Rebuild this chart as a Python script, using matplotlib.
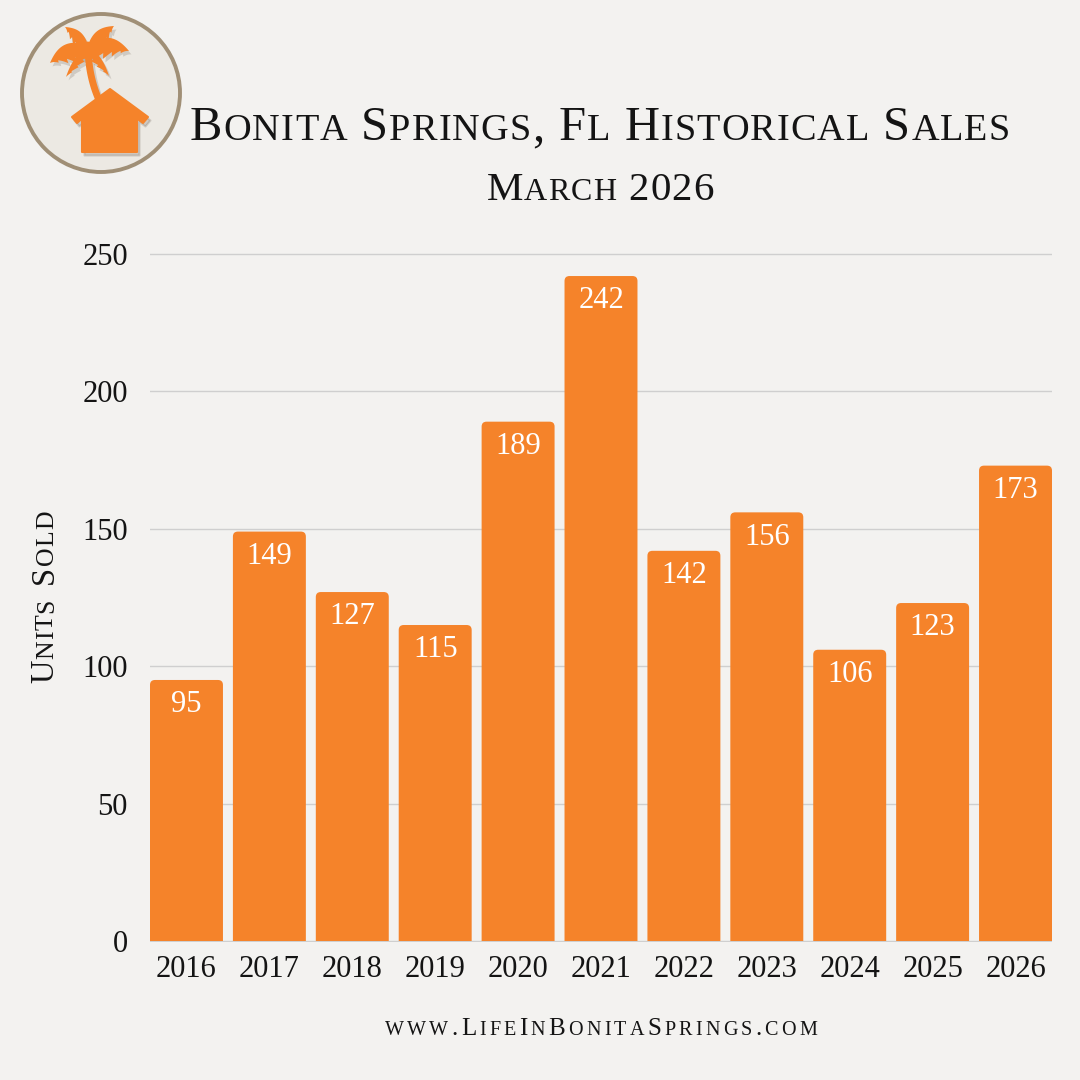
import matplotlib
matplotlib.use("Agg")
import matplotlib.pyplot as plt
import numpy as np
from matplotlib.patches import Circle, Polygon, FancyBboxPatch, Rectangle
from matplotlib.transforms import IdentityTransform

# données (mars, unités vendues)
years = ['2016', '2017', '2018', '2019', '2020', '2021',
         '2022', '2023', '2024', '2025', '2026']
units_sold = [95, 149, 127, 115, 189, 242, 142, 156, 106, 123, 173]
y_ticks = [0, 50, 100, 150, 200, 250]

title = "Bonita Springs, Fl Historical Sales"
subtitle = "March 2026"
y_label = "Units Sold"
footer = "www.LifeInBonitaSprings.com"

BG = '#F3F2F0'
ORANGE = '#F5832A'
INK = '#141414'
SERIF = 'Liberation Serif'

fig = plt.figure(figsize=(10.8, 10.8), dpi=100, facecolor=BG)

# axe principal (en pixels : x 150 -> 1052, y=0 à 941, y=250 à 254)
ax = fig.add_axes([150 / 1080, (1080 - 942.4) / 1080, 902 / 1080, 691.1 / 1080])
ax.set_facecolor(BG)
x = np.arange(len(years))
bars = ax.bar(x, units_sold, width=0.88, color=ORANGE, zorder=2)
for b, v in zip(bars, units_sold):
    # barre à coins du haut arrondis, bas coupé net à 0
    b.set_visible(False)
    rb = FancyBboxPatch((b.get_x(), -10), b.get_width(), v + 10,
                        boxstyle='round,pad=0,rounding_size=0.06',
                        mutation_aspect=30, fc=ORANGE, ec='none', zorder=2)
    ax.add_patch(rb)
    rb.set_clip_path(Rectangle((b.get_x() - 0.1, 0), b.get_width() + 0.2, 400,
                               transform=ax.transData))
    ax.text(b.get_x() + b.get_width() / 2, v - 9, str(v), ha='center', va='center',
            color='white', fontsize=22, family=SERIF, zorder=3)

ax.set_xlim(-0.44, len(years) - 0.56)
ax.set_ylim(-0.5, 251)
ax.set_yticks(y_ticks)
ax.set_xticks(x)
ax.set_xticklabels(years)
ax.grid(axis='y', color='#CFCFCF', linewidth=1)
ax.set_axisbelow(True)
for s in ax.spines.values():
    s.set_visible(False)
ax.tick_params(axis='y', length=0, pad=16, labelsize=22, labelcolor=INK)
ax.tick_params(axis='x', length=0, pad=9, labelsize=22, labelcolor=INK)
for lab in ax.get_xticklabels() + ax.get_yticklabels():
    lab.set_family(SERIF)

renderer = fig.canvas.get_renderer()


def ink_width(s, size):
    t = fig.text(0, 0, s, fontsize=size, family=SERIF)
    w = t.get_window_extent(renderer).width
    t.remove()
    return w


def small_caps(text, cx, base, big, small, width, rotation=0, space_k=1.0):
    """Petites capitales faites à la main, lettre par lettre, en pixels"""
    glyphs = []
    for ch in text:
        if ch == ' ':
            glyphs.append((None, space_k * (ink_width('I I', big) - ink_width('II', big)), big))
        else:
            size = small if ch.islower() else big
            glyphs.append((ch.upper(), ink_width(ch.upper(), size), size))
    total = sum(g[1] for g in glyphs)
    track = max((width - total) / (len(glyphs) - 1), 1.0)
    width = total + track * (len(glyphs) - 1)
    pos = cx - width / 2
    for ch, w, size in glyphs:
        if ch is not None:
            if rotation == 0:
                xy = (pos, base)
            else:
                xy = (base, pos)
            fig.text(xy[0], xy[1], ch, fontsize=size, family=SERIF, color=INK,
                     ha='left', va='baseline', rotation=rotation,
                     rotation_mode='anchor', transform=IdentityTransform())
        pos += w + track


small_caps(title, 600, 1080 - 140, 35, 27.5, 820)
small_caps(subtitle, 600, 1080 - 200, 29.5, 23, 227)
small_caps(y_label, 1080 - 597, 53, 23.5, 18.5, 169, rotation=90, space_k=1.5)
small_caps(footer, 601, 1080 - 1035, 18, 14.5, 432)

# logo : cercle, palmier et maison
lx = fig.add_axes([0, 880 / 1080, 200 / 1080, 200 / 1080])
lx.set_xlim(0, 200)
lx.set_ylim(200, 0)
lx.axis('off')
lx.add_patch(Circle((101, 93), 79, fc='#ECE9E3', ec='#A08F76', lw=2.8))


def leaf(p0, p1, bend, width, teeth=5, n=80):
    """Palme : nervure arquée vers le haut, folioles pendantes dentelées"""
    p0, p1 = np.array(p0, float), np.array(p1, float)
    d = p1 - p0
    nrm = np.array([-d[1], d[0]]) / np.hypot(*d)
    if nrm[1] > 0:
        nrm = -nrm  # vers le haut (y image vers le bas)
    t = np.linspace(0, 1, n)
    ctrl = (p0 + p1) / 2 + nrm * bend
    mid = ((1 - t) ** 2)[:, None] * p0 + (2 * (1 - t) * t)[:, None] * ctrl + (t ** 2)[:, None] * p1
    saw = 1 - 0.35 * ((t * teeth) % 1)
    th = np.sin(np.pi * t ** 0.7) * saw
    upper = mid + nrm * (0.2 * width * np.sin(np.pi * t))[:, None]
    lower = mid - nrm * (width * th)[:, None]
    return np.vstack([upper, lower[::-1]])


crown = (88, 45)
fronds = [((50, 63), 13, 18), ((65, 27), 6, 12), ((114, 26), 6, 14),
          ((129, 51), 13, 18), ((66, 77), 3, 8), ((109, 76), 3, 8)]
house = [(110, 89), (148, 117), (143, 123), (137, 118.5), (137, 152),
         (82, 152), (82, 118.5), (77, 123), (72, 117)]

for dx, dy, col, z in [(2.5, 3.5, (0.3, 0.25, 0.2, 0.18), 1), (0, 0, ORANGE, 2)]:
    t = np.linspace(0, 1, 30)
    tx = (1 - t) ** 2 * 88 + 2 * (1 - t) * t * 88 + t ** 2 * 99 + dx
    ty = (1 - t) ** 2 * 45 + 2 * (1 - t) * t * 75 + t ** 2 * 100 + dy
    lx.plot(tx, ty, color=col, lw=5, solid_capstyle='round', zorder=z)
    for tip, bend, w in fronds:
        pts = leaf(crown, tip, bend, w) + np.array([dx, dy])
        lx.add_patch(Polygon(pts, closed=True, fc=col, ec='none', zorder=z))
    lx.add_patch(Polygon(np.array(house) + np.array([dx, dy]), closed=True,
                         fc=col, ec=col, lw=1.5, joinstyle='round', zorder=z + 1))

fig.savefig('out.png', dpi=100, facecolor=BG)
